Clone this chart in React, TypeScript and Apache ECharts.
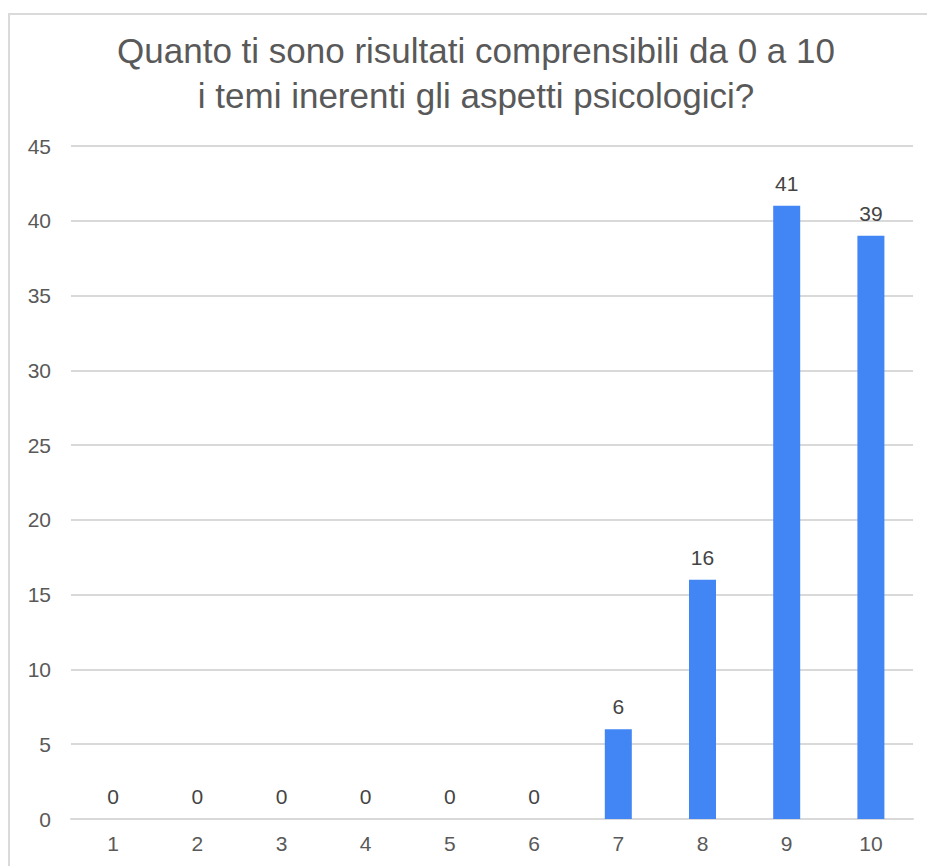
import React, { useEffect, useRef } from "react";
import * as echarts from "echarts";

const categories = ["1", "2", "3", "4", "5", "6", "7", "8", "9", "10"];
const values = [0, 0, 0, 0, 0, 0, 6, 16, 41, 39];
const titleLines = [
  "Quanto ti sono risultati comprensibili da 0 a 10",
  "i temi inerenti gli aspetti psicologici?",
];

export default function App() {
  const ref = useRef<HTMLDivElement>(null);
  useEffect(() => {
    if (!ref.current) return;
    const chart = echarts.init(ref.current, null, { renderer: "svg" });
    const font = "'Liberation Sans', Arial, sans-serif";
    chart.setOption({
      animation: false,
      backgroundColor: "#ffffff",
      title: {
        text: titleLines.join("\n"),
        left: 471,
        top: 23,
        textAlign: "center",
        textStyle: {
          fontFamily: font,
          fontSize: 35,
          fontWeight: "normal",
          color: "#595959",
          lineHeight: 45,
        },
      },
      graphic: [
        {
          type: "line",
          shape: { x1: 8, y1: 14, x2: 927, y2: 14 },
          style: { stroke: "#dadada", lineWidth: 2 },
        },
        {
          type: "line",
          shape: { x1: 9, y1: 13, x2: 9, y2: 866 },
          style: { stroke: "#dadada", lineWidth: 2 },
        },
      ],
      grid: { left: 71, right: 14, top: 146, bottom: 47, containLabel: false },
      xAxis: {
        type: "category",
        data: categories,
        axisLine: { show: true, lineStyle: { color: "#d9d9d9", width: 2 } },
        axisTick: { show: false },
        axisLabel: {
          fontFamily: font,
          fontSize: 21,
          color: "#595959",
          margin: 14,
        },
      },
      yAxis: {
        type: "value",
        min: 0,
        max: 45,
        interval: 5,
        axisLine: { show: false },
        axisTick: { show: false },
        splitLine: { lineStyle: { color: "#d9d9d9", width: 2 } },
        axisLabel: {
          fontFamily: font,
          fontSize: 21,
          color: "#595959",
          margin: 20,
        },
      },
      series: [
        {
          type: "bar",
          data: values,
          barWidth: 27,
          itemStyle: { color: "#4285F4" },
          label: {
            show: true,
            position: "top",
            distance: 12,
            fontFamily: font,
            fontSize: 21,
            color: "#444444",
          },
        },
      ],
    });
    return () => chart.dispose();
  }, []);
  return (
    <div
      ref={ref}
      style={{ position: "absolute", left: 0, top: 0, width: 927, height: 866 }}
    />
  );
}
